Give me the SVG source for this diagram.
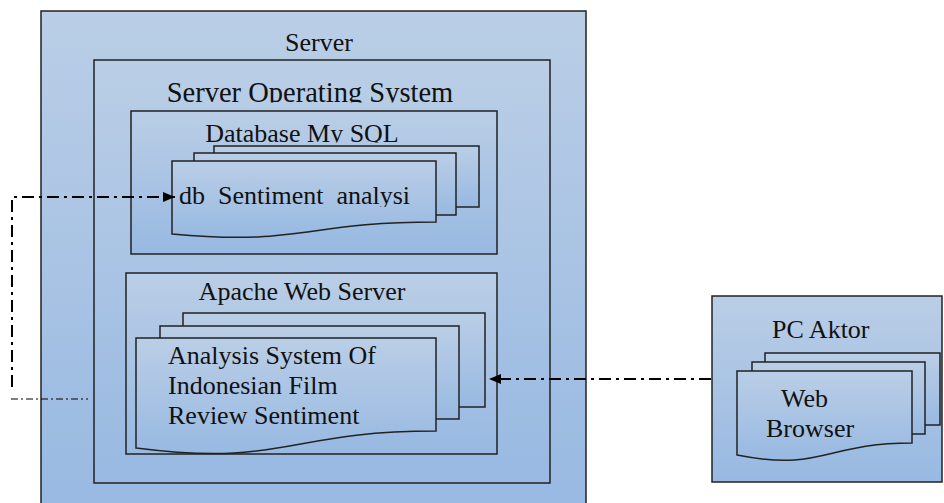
<svg xmlns="http://www.w3.org/2000/svg" width="944" height="503" viewBox="0 0 944 503">
<defs>
<linearGradient id="g" x1="0" y1="0" x2="0" y2="1">
<stop offset="0" stop-color="#bacee6"/>
<stop offset="1" stop-color="#98b9e2"/>
</linearGradient>
<marker id="ah" markerUnits="userSpaceOnUse" markerWidth="13" markerHeight="11" refX="12" refY="5" orient="auto">
<path d="M0,0 L12,5 L0,10 Z" fill="#000"/>
</marker>
<clipPath id="cos"><rect x="95" y="60" width="455" height="42.5"/></clipPath>
<clipPath id="cdbt"><rect x="131" y="111" width="366" height="31.5"/></clipPath>
<clipPath id="cdb"><rect x="172" y="161" width="243" height="46"/></clipPath>
</defs>
<style>
.box{fill:url(#g);stroke:#222;stroke-width:1.5}
.t{font-family:"Liberation Serif","Times New Roman",serif;font-size:26px;fill:#111}
.c{fill:none;stroke:#000;stroke-width:2;stroke-dasharray:12 5 3 5}
.ct{fill:none;stroke:#000;stroke-width:1;stroke-dasharray:7 3 2 3}
</style>
<rect width="944" height="503" fill="#fff"/>
<g id="server">
<rect class="box" x="41" y="11" width="545" height="500"/>
<text class="t" x="319" y="51" text-anchor="middle">Server</text>
</g>
<g id="server-os">
<rect class="box" x="94" y="60" width="456" height="423"/>
<text class="t" x="310" y="102" text-anchor="middle" clip-path="url(#cos)" style="font-size:28.5px">Server Operating System</text>
</g>
<g id="database">
<rect class="box" x="131" y="111" width="366" height="143"/>
<text class="t" x="302" y="142" text-anchor="middle" clip-path="url(#cdbt)">Database My SQL</text>
<rect class="box" x="214" y="146" width="265" height="61"/>
<rect class="box" x="194" y="153" width="262" height="62"/>
<path class="box" d="M172,161 H436 V222 C304,222 304,246 172,234 Z"/>
<text class="t" x="179" y="204" clip-path="url(#cdb)" xml:space="preserve">db  Sentiment  analysi</text>
</g>
<g id="apache">
<rect class="box" x="126" y="273" width="371" height="181"/>
<text class="t" x="302" y="300" text-anchor="middle">Apache Web Server</text>
<rect class="box" x="183" y="313" width="302" height="94"/>
<rect class="box" x="160" y="326" width="299" height="93"/>
<path class="box" d="M136,338 H436 V431 C286,431 286,467 136,448 Z"/>
<text class="t" x="168" y="364">Analysis System Of</text>
<text class="t" x="168" y="394">Indonesian Film</text>
<text class="t" x="168" y="424">Review Sentiment</text>
</g>
<g id="pc-aktor">
<rect class="box" x="712" y="296" width="230" height="186"/>
<text class="t" x="772" y="338">PC Aktor</text>
<rect class="box" x="765" y="353" width="175" height="72"/>
<rect class="box" x="752" y="362" width="173" height="72"/>
<path class="box" d="M737,371 H912 V443 C824,443 824,472 737,455 Z"/>
<text class="t" x="781" y="407">Web</text>
<text class="t" x="766" y="437">Browser</text>
</g>
<g id="connectors">
<path class="c" d="M12,387 V197 H175" marker-end="url(#ah)"/>
<path class="ct" d="M11,399 H88"/>
<path class="c" d="M711,379 H489" marker-end="url(#ah)"/>
</g>
</svg>
